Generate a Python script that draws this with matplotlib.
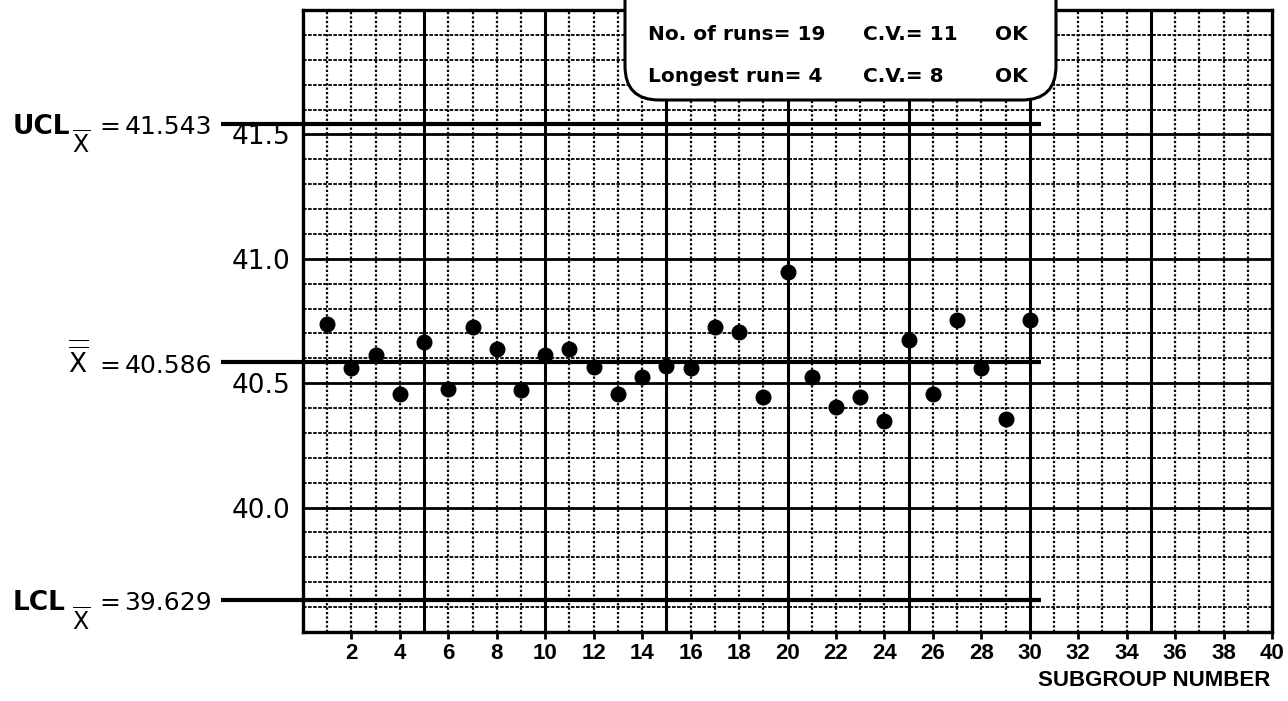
import matplotlib
matplotlib.use("Agg")
import matplotlib.pyplot as plt
from matplotlib.patches import FancyBboxPatch
from matplotlib.transforms import blended_transform_factory

plt.rcParams['mathtext.fontset'] = 'dejavusans'

# Subgroup averages (X-bar chart)
subgroups = list(range(1, 31))
xbar = [40.737, 40.560, 40.613, 40.456, 40.665, 40.476, 40.725, 40.637,
        40.472, 40.613, 40.637, 40.564, 40.456, 40.524, 40.568, 40.560,
        40.725, 40.705, 40.444, 40.946, 40.524, 40.404, 40.444, 40.347,
        40.673, 40.456, 40.753, 40.560, 40.355, 40.753]

ucl = 41.543
center = 40.586
lcl = 39.629

y_ticks = [40.0, 40.5, 41.0, 41.5]
y_tick_labels = ["40.0", "40.5", "41.0", "41.5"]
x_ticks = list(range(2, 41, 2))

run_rows = [("No. of runs= 19", "C.V.= 11", "OK"),
            ("Longest run= 4", "C.V.= 8", "OK")]

W, H = 1288, 701
fig = plt.figure(figsize=(W / 100, H / 100), dpi=100)
ax = fig.add_axes([303 / W, (H - 632) / H, (1272 - 303) / W, (632 - 10) / H])
ax.set_xlim(0, 40)
ax.set_ylim(39.5, 42.0)

# graph-paper grid
for x in range(1, 40):
    if x % 5 == 0:
        ax.axvline(x, color='black', lw=2.2, zorder=2)
    else:
        ax.axvline(x, color='black', lw=1.6, ls=(0, (1.0, 1.0)), zorder=1)
for k in range(396, 420):
    y = k / 10
    if k % 5 == 0:
        ax.axhline(y, color='black', lw=2.0, zorder=2)
    else:
        ax.axhline(y, color='black', lw=1.3, ls=(0, (2.0, 0.8)), zorder=1)

for sp in ax.spines.values():
    sp.set_linewidth(2.4)

# control limits, extended out to the labels on the left
for val in (ucl, center, lcl):
    ax.plot([-3.4, 30.45], [val, val], color='black', lw=3.0,
            solid_capstyle='butt', clip_on=False, zorder=4)

ax.plot(subgroups, xbar, 'o', color='black', markersize=10.5, zorder=5)

ax.set_yticks(y_ticks)
ax.set_yticklabels(y_tick_labels)
ax.tick_params(axis='y', length=0, pad=9, labelsize=19)
ax.set_xticks(x_ticks)
ax.set_xticklabels([str(v) for v in x_ticks])
ax.tick_params(axis='x', direction='out', length=5, width=2, pad=3,
               labelsize=16)
for lab in ax.get_xticklabels():
    lab.set_fontfamily('Liberation Sans')
    lab.set_fontweight('bold')

fig.text(1270 / W, (H - 680) / H, "SUBGROUP NUMBER", ha='right', va='center',
         fontsize=16, fontweight='bold', family='Liberation Sans')

# limit labels
tr = blended_transform_factory(fig.transFigure, ax.transData)
ppu = 248.8  # pixels per data unit on the y axis
for name, val, txt in (("UCL", ucl, "41.543"), ("LCL", lcl, "39.629")):
    ax.text(13 / W, val - 10 / ppu, name, transform=tr,
            ha='left', va='baseline', fontsize=19, fontweight='bold')
    ax.text(72 / W, val - 30 / ppu, r"$\overline{\mathrm{X}}$", transform=tr,
            ha='left', va='baseline', fontsize=17)
    ax.text(99 / W, val - 10 / ppu, "=", transform=tr,
            ha='left', va='baseline', fontsize=18)
    ax.text(212 / W, val - 10 / ppu, txt, transform=tr,
            ha='right', va='baseline', fontsize=18)
ax.text(68 / W, center - 11 / ppu, r"$\overline{\overline{\mathrm{X}}}$",
        transform=tr, ha='left', va='baseline', fontsize=19)
ax.text(99 / W, center - 11 / ppu, "=", transform=tr,
        ha='left', va='baseline', fontsize=18)
ax.text(212 / W, center - 11 / ppu, "40.586", transform=tr,
        ha='right', va='baseline', fontsize=18)

# runs-test summary box
ov = fig.add_axes([0, 0, 1, 1], zorder=10)
ov.set_xlim(0, W)
ov.set_ylim(H, 0)
ov.axis('off')
ov.patch.set_alpha(0)
box = FancyBboxPatch((625, -60), 1056 - 625, 160,
                     boxstyle="round,pad=0,rounding_size=34",
                     facecolor='white', edgecolor='black', lw=2.2)
ov.add_patch(box)
for (a, b, c), yb in zip(run_rows, (40, 82)):
    ov.text(648, yb, a, ha='left', va='baseline', fontsize=14.5, fontweight='bold')
    ov.text(863, yb, b, ha='left', va='baseline', fontsize=14.5, fontweight='bold')
    ov.text(995, yb, c, ha='left', va='baseline', fontsize=14.5, fontweight='bold')

fig.savefig("out.png", dpi=100, facecolor='white')
